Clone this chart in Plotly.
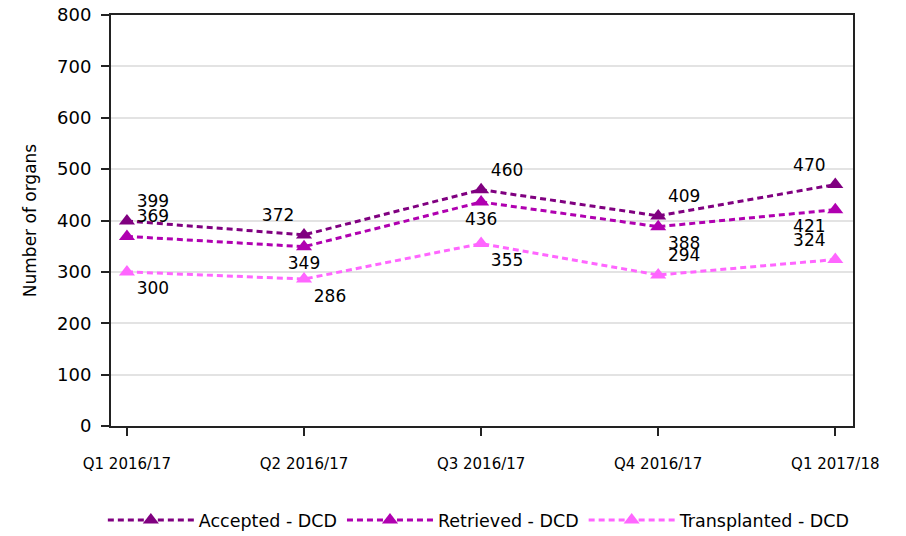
import plotly.graph_objects as go

quarters = ["Q1 2016/17", "Q2 2016/17", "Q3 2016/17", "Q4 2016/17", "Q1 2017/18"]
accepted = [399, 372, 460, 409, 470]
retrieved = [369, 349, 436, 388, 421]
transplanted = [300, 286, 355, 294, 324]

acc_pos = ["top right", "top left", "top right", "top right", "top left"]
ret_pos = ["top right", "bottom center", "bottom center", "bottom right", "bottom left"]
tra_pos = ["bottom right", "bottom right", "bottom right", "top right", "top left"]

series = [
    ("Accepted - DCD", accepted, "#800080", acc_pos),
    ("Retrieved - DCD", retrieved, "#B000B0", ret_pos),
    ("Transplanted - DCD", transplanted, "#FF66FF", tra_pos),
]

FONT = "DejaVu Sans, Verdana, sans-serif"

fig = go.Figure()
for name, vals, col, pos in series:
    fig.add_trace(go.Scatter(
        x=list(range(len(quarters))), y=vals, name=name,
        mode="lines+markers+text",
        line=dict(color=col, width=3, dash="6px,4px"),
        marker=dict(symbol="triangle-up", size=14, color=col),
        text=[str(v) for v in vals], textposition=pos,
        textfont=dict(family=FONT, size=17, color="#000"),
        cliponaxis=False,
    ))

# page body adds an 8px offset, so margins are shifted to compensate
fig.update_layout(
    width=906, height=536,
    margin=dict(l=103, r=61, t=7, b=118, autoexpand=False),
    paper_bgcolor="white", plot_bgcolor="white",
    font=dict(family=FONT, size=15, color="#000"),
    showlegend=True,
    legend=dict(orientation="h", x=-0.011, xanchor="left", y=-0.229, yanchor="middle",
                font=dict(size=17.5), itemwidth=86, tracegroupgap=0),
    xaxis=dict(
        range=[-0.09, 4.1], tickvals=list(range(len(quarters))), ticktext=quarters,
        showgrid=False, showline=True, linecolor="#222", linewidth=2, mirror=True,
        ticks="outside", ticklen=8, tickcolor="#222", tickwidth=1.5, tickfont=dict(size=15),
        ticklabelstandoff=15, zeroline=False, ticklabeloverflow="allow",
    ),
    yaxis=dict(
        range=[0, 800], dtick=100, showgrid=True, gridcolor="#e3e3e3", gridwidth=1.5,
        showline=True, linecolor="#222", linewidth=2, mirror=True,
        ticks="outside", ticklen=8, tickcolor="#222", tickwidth=1.5, tickfont=dict(size=18),
        ticklabelstandoff=6, zeroline=False, ticklabeloverflow="allow",
        title=dict(text="Number of organs", font=dict(size=17), standoff=16),
    ),
)

fig.write_html("out.html")
